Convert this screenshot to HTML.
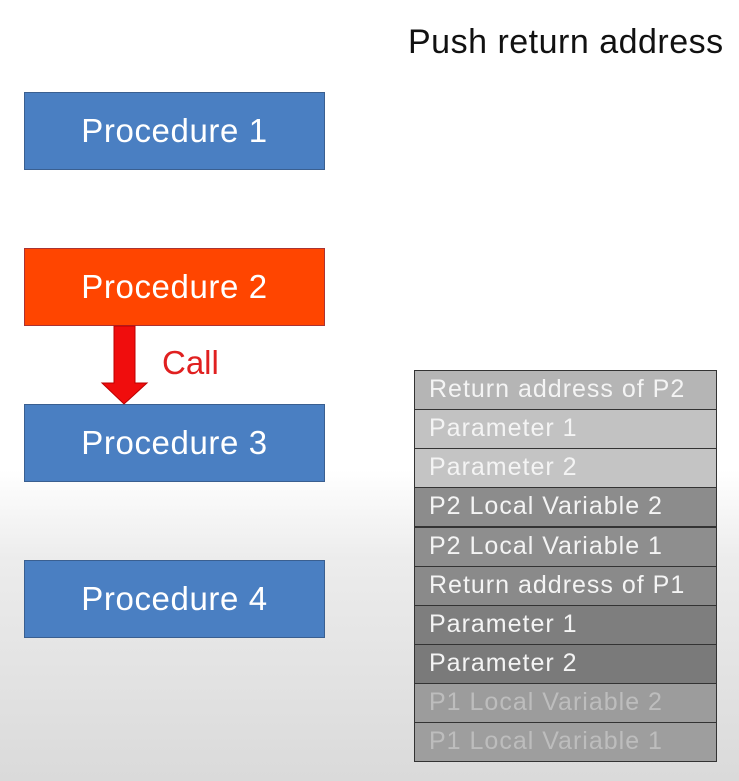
<!DOCTYPE html>
<html><head><style>
body{margin:0;width:739px;height:781px;overflow:hidden;font-family:"Liberation Sans",sans-serif;
background:linear-gradient(to bottom,#fff 0,#fff 470px,#ececec 560px,#dadada 781px);position:relative}
.b{position:absolute;left:24px;width:301px;height:76px;border:1px solid #3a5f90;color:#fff;font-size:33px;letter-spacing:0.6px;
display:flex;align-items:center;justify-content:center;box-sizing:border-box;background:#4a7fc2}
.r{position:absolute;left:414px;width:303px;height:40px;box-sizing:border-box;border:1.5px solid #333;color:#f4f4f4;
font-size:25px;letter-spacing:1px;padding-left:14px;line-height:37px;white-space:nowrap}
</style></head><body>
<div style="position:absolute;left:408px;top:23px;font-size:34px;letter-spacing:0.5px;color:#111">Push return address</div>
<div class="b" style="top:92px;height:78px">Procedure 1</div>
<div class="b" style="top:248px;height:78px;background:#ff4500;border-color:#a33">Procedure 2</div>
<div class="b" style="top:404px;height:78px">Procedure 3</div>
<div class="b" style="top:560px;height:78px">Procedure 4</div>
<svg style="position:absolute;left:0;top:0" width="739" height="781">
<polygon points="114,326 135,326 135,383 147,383 124,404 102,383 114,383" fill="#f00d0d" stroke="#b00" stroke-width="1"/>
</svg>
<div style="position:absolute;left:162px;top:344px;font-size:33px;color:#e02020">Call</div>
<div class="r" style="top:370px;background:#b5b5b5">Return address of P2</div>
<div class="r" style="top:409px;background:#c2c2c2">Parameter 1</div>
<div class="r" style="top:448px;background:#c4c4c4">Parameter 2</div>
<div class="r" style="top:487px;background:#8c8c8c">P2 Local Variable 2</div>
<div class="r" style="top:527px;background:#8e8e8e">P2 Local Variable 1</div>
<div class="r" style="top:566px;background:#8a8a8a">Return address of P1</div>
<div class="r" style="top:605px;background:#7e7e7e">Parameter 1</div>
<div class="r" style="top:644px;background:#7a7a7a">Parameter 2</div>
<div class="r" style="top:683px;background:#9c9c9c;color:#bdbdbd">P1 Local Variable 2</div>
<div class="r" style="top:722px;background:#9e9e9e;color:#bdbdbd">P1 Local Variable 1</div>
</body></html>
